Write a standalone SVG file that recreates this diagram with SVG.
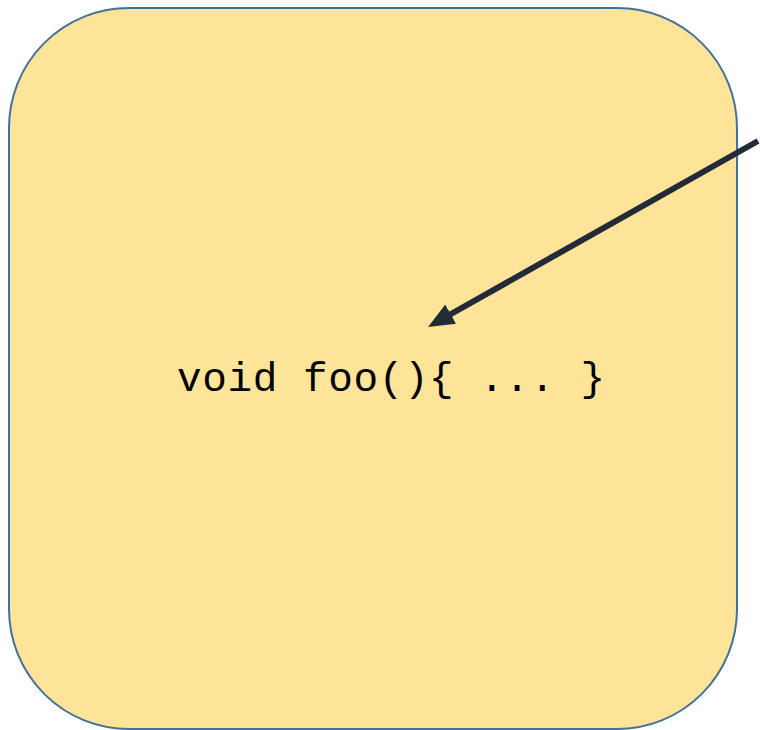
<svg xmlns="http://www.w3.org/2000/svg" width="760" height="730" viewBox="0 0 760 730">
  <style>
    .box { fill: #fde499; stroke: #41719c; stroke-width: 2; }
    .code { font-family: "Liberation Mono", "Courier New", monospace; font-size: 41px; fill: #000; }
    .conn { stroke: #232b38; stroke-width: 6; fill: none; }
  </style>
  <defs>
    <marker id="ah" markerUnits="userSpaceOnUse" markerWidth="34" markerHeight="30" refX="18" refY="11" orient="auto">
      <path d="M0,0 L26,11 L0,22 Z" fill="#232b38"/>
    </marker>
  </defs>
  <g id="node-box">
    <rect class="box" x="9" y="8" width="728" height="721" rx="120" ry="120"/>
    <text class="code" x="177" y="391" textLength="428" lengthAdjust="spacing">void foo(){ ... }</text>
  </g>
  <g id="connectors">
    <line class="conn" x1="758" y1="141" x2="435" y2="323" marker-end="url(#ah)"/>
  </g>
</svg>
